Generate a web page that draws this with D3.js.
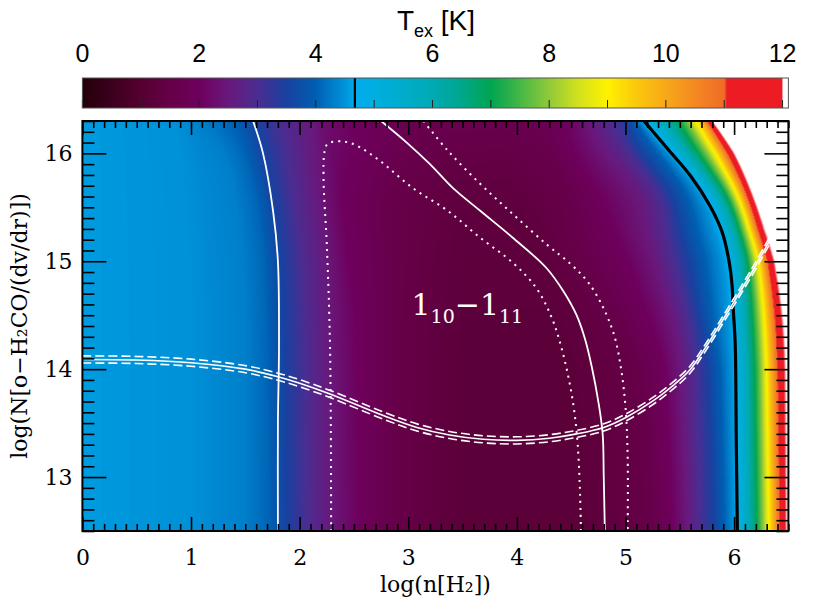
<!DOCTYPE html>
<html>
<head>
<meta charset="utf-8">
<script src="https://cdn.jsdelivr.net/npm/d3@7"></script>
<style>
  body { margin: 0; background: #fff; }
</style>
</head>
<body>
<svg id="chart" width="830" height="610"></svg>
<script>
// colour table of the bar, Tex [K] -> colour
const cbStops = [0, 0.5, 1.0, 1.5, 2.0, 2.5, 3.0, 3.5, 4.0, 4.5, 4.67, 5.0, 6.0, 6.5, 7.0, 7.5, 8.0, 8.5, 9.0, 9.5, 10.0, 10.5, 11.0, 11.05, 12.0, 12.12]
const cbColors = ['#23000a', '#3c001e', '#550030', '#660048', '#6e005c', '#69197d', '#4b2d91', '#1941a0', '#005fb2', '#0094da', '#00acec', '#00aee2', '#00aab4', '#00a68c', '#00a552', '#46b746', '#91ca3a', '#d2e11e', '#fff200', '#fac80c', '#f7a819', '#f48922', '#f06c28', '#ed1c24', '#ed1c24', '#ffffff']
const cbTicks = [0, 1, 2, 3, 4, 5, 6, 7, 8, 9, 10, 11, 12]
const cbLabels = [0, 2, 4, 6, 8, 10, 12]
const cbMark = 4.67

const xTicks = [0, 1, 2, 3, 4, 5, 6]
const yTicks = [13, 14, 15, 16]

// Tex, row by row: knot positions in log n and the Tex there
const rowY = [12.5, 14.0, 14.5, 15.0, 15.3, 15.65, 16.0, 16.3]
const rowX = [
  [0, 1.0, 1.5, 1.72, 1.88, 2.07, 2.28, 2.55, 2.9, 3.5, 4.6, 5.22, 5.43, 5.57, 5.69, 5.81, 5.91, 6.03, 6.14, 6.21, 6.27, 6.32, 6.37, 6.42, 6.47, 6.55],
  [0, 1.0, 1.5, 1.71, 1.87, 2.06, 2.27, 2.54, 2.9, 3.5, 4.5, 5.12, 5.37, 5.52, 5.65, 5.77, 5.88, 6.01, 6.12, 6.19, 6.25, 6.3, 6.35, 6.4, 6.46, 6.55],
  [0, 1.0, 1.5, 1.7, 1.86, 2.05, 2.26, 2.53, 2.92, 3.5, 4.4, 4.87, 5.2, 5.45, 5.58, 5.68, 5.79, 5.99, 6.1, 6.17, 6.23, 6.28, 6.33, 6.38, 6.44, 6.52],
  [0, 0.98, 1.48, 1.68, 1.84, 2.01, 2.24, 2.46, 2.95, 3.5, 4.2, 4.55, 5.0, 5.26, 5.43, 5.58, 5.74, 5.95, 6.07, 6.13, 6.18, 6.23, 6.27, 6.31, 6.36, 6.44],
  [0, 0.96, 1.45, 1.65, 1.81, 1.98, 2.21, 2.43, 2.95, 3.5, 4.1, 4.45, 4.88, 5.2, 5.37, 5.5, 5.65, 5.87, 5.99, 6.05, 6.1, 6.14, 6.18, 6.22, 6.27, 6.35],
  [0, 0.93, 1.4, 1.6, 1.76, 1.93, 2.16, 2.39, 2.95, 3.4, 4.0, 4.45, 4.75, 5.15, 5.33, 5.45, 5.58, 5.74, 5.86, 5.93, 5.98, 6.03, 6.07, 6.11, 6.15, 6.22],
  [0, 0.9, 1.32, 1.5, 1.67, 1.85, 2.08, 2.32, 2.95, 3.3, 3.9, 4.3, 4.55, 4.85, 5.0, 5.12, 5.27, 5.42, 5.56, 5.66, 5.75, 5.82, 5.88, 5.94, 6.0, 6.07],
  [0, 0.85, 1.2, 1.4, 1.58, 1.72, 2.0, 2.2, 2.5, 3.0, 3.9, 4.3, 4.55, 4.8, 4.93, 5.0, 5.07, 5.16, 5.37, 5.49, 5.58, 5.65, 5.71, 5.75, 5.79, 5.85]
]
const rowT = [
  [4.55, 4.47, 4.3, 4.05, 3.5, 3.0, 2.5, 2.0, 1.5, 1.2, 1.2, 1.5, 2.0, 2.5, 3.0, 3.5, 4.0, 4.67, 6, 7, 8, 9, 10, 11, 12, 12.5],
  [4.55, 4.47, 4.3, 4.05, 3.5, 3.0, 2.5, 2.0, 1.5, 1.2, 1.2, 1.5, 2.0, 2.5, 3.0, 3.5, 4.0, 4.67, 6, 7, 8, 9, 10, 11, 12, 12.5],
  [4.55, 4.47, 4.3, 4.05, 3.5, 3.0, 2.5, 2.0, 1.5, 1.22, 1.22, 1.5, 2.0, 2.5, 3.0, 3.5, 4.0, 4.67, 6, 7, 8, 9, 10, 11, 12, 12.5],
  [4.55, 4.47, 4.3, 4.05, 3.5, 3.0, 2.5, 2.0, 1.5, 1.25, 1.25, 1.5, 2.0, 2.5, 3.0, 3.5, 4.0, 4.67, 6, 7, 8, 9, 10, 11, 12, 12.5],
  [4.55, 4.47, 4.3, 4.05, 3.5, 3.0, 2.5, 2.0, 1.5, 1.28, 1.28, 1.5, 2.0, 2.5, 3.0, 3.5, 4.0, 4.67, 6, 7, 8, 9, 10, 11, 12, 12.5],
  [4.55, 4.47, 4.3, 4.05, 3.5, 3.0, 2.5, 2.0, 1.5, 1.32, 1.32, 1.5, 2.0, 2.5, 3.0, 3.5, 4.0, 4.67, 6, 7, 8, 9, 10, 11, 12, 12.5],
  [4.55, 4.47, 4.3, 4.05, 3.55, 3.1, 2.6, 2.15, 1.65, 1.45, 1.45, 1.65, 2.1, 2.6, 3.0, 3.5, 3.95, 4.67, 6, 7, 8, 9, 10, 11, 12, 12.5],
  [4.55, 4.47, 4.2, 4.0, 3.6, 3.2, 2.7, 2.3, 2.0, 1.7, 1.65, 1.8, 2.2, 2.8, 3.1, 3.5, 3.9, 4.67, 6, 7, 8, 9, 10, 11, 12, 12.5]
]

// overlaid curves [log n, log N]
const leftSolid = [[1.571, 16.3], [1.663, 16.0], [1.755, 15.47], [1.80, 15.0], [1.81, 14.2], [1.80, 13.5], [1.80, 12.5]]
const midSolid = [[2.75, 16.3], [2.986, 16.10], [3.20, 15.90], [3.41, 15.68], [3.66, 15.47], [3.96, 15.22], [4.27, 14.94], [4.43, 14.72], [4.55, 14.5], [4.63, 14.27], [4.69, 14.02], [4.75, 13.7], [4.79, 13.4], [4.80, 13.0], [4.81, 12.5]]
const innerDots = [[2.29, 12.5], [2.28, 14.2], [2.25, 15.16], [2.22, 15.77], [2.23, 16.02], [2.26, 16.09], [2.40, 16.11], [2.53, 16.07], [2.74, 15.93], [3.04, 15.68], [3.36, 15.47], [3.66, 15.22], [3.97, 14.98], [4.18, 14.75], [4.32, 14.48], [4.41, 14.2], [4.48, 13.9], [4.53, 13.6], [4.56, 13.3], [4.58, 12.9], [4.59, 12.5]]
const outerDots = [[3.14, 16.3], [3.36, 16.03], [3.66, 15.72], [3.96, 15.44], [4.27, 15.16], [4.50, 14.97], [4.66, 14.8], [4.80, 14.56], [4.90, 14.3], [4.96, 14.0], [5.0, 13.65], [5.02, 13.2], [5.02, 12.5]]
const blackLine = [[5.17, 16.3], [5.39, 16.04], [5.60, 15.79], [5.78, 15.51], [5.89, 15.27], [5.95, 15.02], [5.98, 14.79], [5.99, 14.59], [6.01, 14.24], [6.02, 13.34], [6.03, 12.5]]
const colLine = [[0, 14.09], [0.5, 14.085], [1.0, 14.06], [1.5, 14.0], [1.8, 13.93], [2.0, 13.87], [2.28, 13.77], [2.77, 13.57], [3.08, 13.46], [3.38, 13.39], [3.69, 13.35], [4.0, 13.34], [4.30, 13.36], [4.55, 13.40], [4.80, 13.46], [5.0, 13.55], [5.26, 13.71], [5.44, 13.85], [5.59, 13.99], [5.73, 14.19], [5.99, 14.61], [6.17, 14.91], [6.31, 15.16], [6.43, 15.38], [6.5, 15.55]]
const colErr = 0.033

const svg = d3.select('#chart')
const pl = 82.4, pr = 788.4, pt = 121, pb = 531
const W = Math.round(pr - pl), H = pb - pt

const x = d3.scaleLinear().domain([0, 6.5]).range([pl, pr])
const y = d3.scaleLinear().domain([12.5, 16.3]).range([pb, pt])
const color = d3.scaleLinear().domain(cbStops).range(cbColors).interpolate(d3.interpolateRgb).clamp(true)

// lookup table so the per-pixel loop stays cheap
const lut = d3.range(0, 1301).map(function (i) { return d3.rgb(color(i / 100)) })
function rgbAt(t) {
  let i = Math.round(t * 100)
  if (i < 0) i = 0
  if (i > 1300) i = 1300
  return lut[i]
}

// smooth the knots across rows so the bands bend like the original
const rowIndex = d3.scaleLinear().domain(rowY).range(d3.range(rowY.length).map(i => i / (rowY.length - 1))).clamp(true)
const knotX = rowX[0].map((_, k) => d3.interpolateBasis(rowX.map(r => r[k])))
const knotT = rowT[0].map((_, k) => d3.interpolateBasis(rowT.map(r => r[k])))
function rowScale(yv) {
  const u = rowIndex(yv)
  return d3.scaleLinear().domain(knotX.map(f => f(u))).range(knotT.map(f => f(u))).clamp(true)
}

// map image
const cv = document.createElement('canvas')
cv.width = W
cv.height = H
const ctx = cv.getContext('2d')
const img = ctx.createImageData(W, H)
for (let py = 0; py < H; py++) {
  const s = rowScale(y.invert(pt + py + 0.5))
  for (let px = 0; px < W; px++) {
    const c = rgbAt(s(x.invert(pl + px + 0.5)))
    const o = (py * W + px) * 4
    img.data[o] = c.r
    img.data[o + 1] = c.g
    img.data[o + 2] = c.b
    img.data[o + 3] = 255
  }
}
ctx.putImageData(img, 0, 0)
svg.append('image')
  .attr('x', pl).attr('y', pt)
  .attr('width', W).attr('height', H)
  .attr('preserveAspectRatio', 'none')
  .attr('href', cv.toDataURL())

// colour bar
const cb = d3.scaleLinear().domain([0, 12.1]).range([pl, pr])
const cbTop = 78, cbBot = 108
const cc = document.createElement('canvas')
cc.width = W
cc.height = 1
const cctx = cc.getContext('2d')
const cimg = cctx.createImageData(W, 1)
for (let px = 0; px < W; px++) {
  const t = cb.invert(pl + px + 0.5)
  const c = t > 12 ? d3.rgb('#fff') : rgbAt(Math.min(t, 11.99))
  cimg.data[px * 4] = c.r
  cimg.data[px * 4 + 1] = c.g
  cimg.data[px * 4 + 2] = c.b
  cimg.data[px * 4 + 3] = 255
}
cctx.putImageData(cimg, 0, 0)
svg.append('image')
  .attr('x', pl).attr('y', cbTop)
  .attr('width', W).attr('height', cbBot - cbTop)
  .attr('preserveAspectRatio', 'none')
  .attr('href', cc.toDataURL())

svg.append('g').selectAll('line').data(cbTicks).join('line')
  .attr('x1', d => cb(d)).attr('x2', d => cb(d))
  .attr('y1', cbBot).attr('y2', cbBot - 8)
  .attr('stroke', '#222').attr('stroke-width', 1)
svg.append('line')
  .attr('x1', cb(cbMark)).attr('x2', cb(cbMark))
  .attr('y1', cbTop).attr('y2', cbBot)
  .attr('stroke', '#000').attr('stroke-width', 2.2)
svg.append('rect')
  .attr('x', pl).attr('y', cbTop).attr('width', W).attr('height', cbBot - cbTop)
  .attr('fill', 'none').attr('stroke', '#555').attr('stroke-width', 1)
svg.append('g').selectAll('text').data(cbLabels).join('text')
  .attr('x', d => cb(d)).attr('y', 62)
  .attr('text-anchor', 'middle')
  .style('font-family', '"Liberation Sans", Arial, sans-serif')
  .style('font-size', '25px')
  .text(d => d)
const ttl = svg.append('text')
  .attr('x', 436).attr('y', 30)
  .attr('text-anchor', 'middle')
  .style('font-family', '"Liberation Sans", Arial, sans-serif')
  .style('font-size', '28px')
ttl.append('tspan').text('T')
ttl.append('tspan').attr('dy', 7).style('font-size', '18px').text('ex')
ttl.append('tspan').attr('dy', -7).text(' [K]')

// overlay curves, clipped to the frame
svg.append('clipPath').attr('id', 'plotclip')
  .append('rect').attr('x', pl).attr('y', pt).attr('width', W).attr('height', H)
const lines = svg.append('g').attr('clip-path', 'url(#plotclip)')
const line = d3.line().x(d => x(d[0])).y(d => y(d[1])).curve(d3.curveCatmullRom)

lines.append('path').attr('d', line(leftSolid))
  .attr('fill', 'none').attr('stroke', '#fff').attr('stroke-width', 1.8)
lines.append('path').attr('d', line(midSolid))
  .attr('fill', 'none').attr('stroke', '#fff').attr('stroke-width', 1.8)
lines.append('path').attr('d', line(innerDots))
  .attr('fill', 'none').attr('stroke', '#fff').attr('stroke-width', 2)
  .attr('stroke-dasharray', '2,5')
lines.append('path').attr('d', line(outerDots))
  .attr('fill', 'none').attr('stroke', '#fff').attr('stroke-width', 2)
  .attr('stroke-dasharray', '2,5')
lines.append('path').attr('d', line(blackLine))
  .attr('fill', 'none').attr('stroke', '#000').attr('stroke-width', 3.2)
lines.append('path').attr('d', line(colLine))
  .attr('fill', 'none').attr('stroke', '#fff').attr('stroke-width', 1.6)
;[colErr, -colErr].forEach(function (e) {
  lines.append('path').attr('d', line(colLine.map(p => [p[0], p[1] + e])))
    .attr('fill', 'none').attr('stroke', '#fff').attr('stroke-width', 1.6)
    .attr('stroke-dasharray', '9,4')
})

// transition label
const lab = svg.append('text')
  .attr('x', x(3.03)).attr('y', y(14.5))
  .attr('fill', '#fff')
  .style('font-family', '"DejaVu Serif", serif')
  .style('font-size', '30px')
lab.append('tspan').text('1')
lab.append('tspan').attr('dy', 8).style('font-size', '19px').text('10')
lab.append('tspan').attr('dy', -8).text('\u22121')
lab.append('tspan').attr('dy', 8).style('font-size', '19px').text('11')

// axes, IDL style ticks pointing inward
const serif = '"DejaVu Serif", serif'
const minorX = x.ticks(65).filter(d => xTicks.indexOf(d) < 0)
const minorY = y.ticks(38).filter(d => yTicks.indexOf(d) < 0)

function styleAxis(g) {
  g.select('.domain').remove()
  g.selectAll('line').attr('stroke', '#000').attr('stroke-width', 1.6)
  g.selectAll('text').style('font-family', serif).style('font-size', '22px').attr('fill', '#000')
}
svg.append('g').attr('transform', `translate(0,${pb})`)
  .call(d3.axisBottom(x).tickValues(xTicks).tickSize(-14).tickPadding(18).tickFormat(d3.format('d'))).call(styleAxis)
svg.append('g').attr('transform', `translate(0,${pb})`)
  .call(d3.axisBottom(x).tickValues(minorX).tickSize(-7).tickFormat('')).call(styleAxis)
svg.append('g').attr('transform', `translate(0,${pt})`)
  .call(d3.axisTop(x).tickValues(xTicks).tickSize(-14).tickFormat('')).call(styleAxis)
svg.append('g').attr('transform', `translate(0,${pt})`)
  .call(d3.axisTop(x).tickValues(minorX).tickSize(-7).tickFormat('')).call(styleAxis)
svg.append('g').attr('transform', `translate(${pl},0)`)
  .call(d3.axisLeft(y).tickValues(yTicks).tickSize(-24).tickPadding(10).tickFormat(d3.format('d'))).call(styleAxis)
svg.append('g').attr('transform', `translate(${pl},0)`)
  .call(d3.axisLeft(y).tickValues(minorY).tickSize(-12).tickFormat('')).call(styleAxis)
svg.append('g').attr('transform', `translate(${pr},0)`)
  .call(d3.axisRight(y).tickValues(yTicks).tickSize(-24).tickFormat('')).call(styleAxis)
svg.append('g').attr('transform', `translate(${pr},0)`)
  .call(d3.axisRight(y).tickValues(minorY).tickSize(-12).tickFormat('')).call(styleAxis)

svg.append('rect')
  .attr('x', pl).attr('y', pt).attr('width', W).attr('height', H)
  .attr('fill', 'none').attr('stroke', '#000').attr('stroke-width', 2)

svg.append('text')
  .attr('x', (pl + pr) / 2).attr('y', 592)
  .attr('text-anchor', 'middle')
  .style('font-family', serif).style('font-size', '22px')
  .text('log(n[H\u2082])')
svg.append('text')
  .attr('transform', `translate(27,${(pt + pb) / 2}) rotate(-90)`)
  .attr('text-anchor', 'middle')
  .style('font-family', serif).style('font-size', '22px')
  .text('log(N[o\u2212H\u2082CO/(dv/dr)])')
</script>
</body>
</html>
